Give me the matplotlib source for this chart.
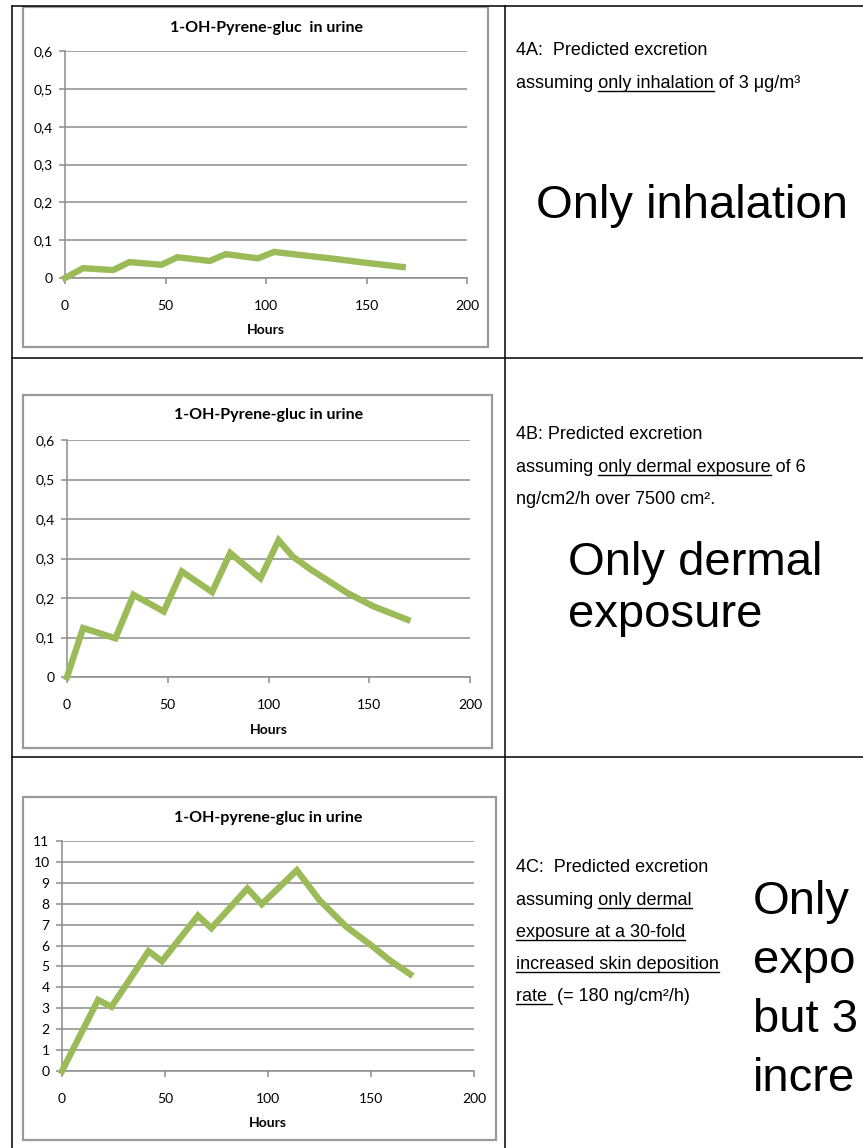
import matplotlib
matplotlib.use("Agg")
import matplotlib.pyplot as plt
from matplotlib.lines import Line2D
from matplotlib.patches import Rectangle

# ---- data ----
hours_a = [0, 9, 24, 32, 48, 56, 72, 80, 96, 104, 120, 135, 150, 168]
urine_a = [0, 0.026, 0.021, 0.042, 0.035, 0.055, 0.045, 0.063, 0.052, 0.069, 0.059, 0.05, 0.04, 0.029]

hours_b = [0, 8, 24, 33, 48, 57, 72, 81, 96, 105, 112, 121, 139, 152, 169]
urine_b = [0, 0.124, 0.098, 0.208, 0.166, 0.267, 0.215, 0.314, 0.25, 0.346, 0.305, 0.272, 0.213, 0.179, 0.145]

hours_c = [0, 17.5, 24, 42, 48.5, 66, 72.5, 90, 97, 114, 125, 138, 150, 159, 169]
urine_c = [0, 3.4, 3.07, 5.73, 5.25, 7.43, 6.83, 8.73, 7.98, 9.6, 8.17, 6.9, 6.02, 5.3, 4.63]

x_ticks = [0, 50, 100, 150, 200]
y_ticks_ab = [0, 0.1, 0.2, 0.3, 0.4, 0.5, 0.6]
y_labels_ab = ['0', '0,1', '0,2', '0,3', '0,4', '0,5', '0,6']
y_ticks_c = list(range(0, 12))
y_labels_c = [str(v) for v in y_ticks_c]

titles = ['1-OH-Pyrene-gluc  in urine', '1-OH-Pyrene-gluc in urine', '1-OH-pyrene-gluc in urine']

W, H = 863, 1148
GREEN = '#9bbb59'
GRID = '#8c8c8c'

fig = plt.figure(figsize=(W / 100, H / 100), dpi=100)


def fx(x):
    return x / W


def fy(y):
    return 1 - y / H


def hline(x0, x1, y, **kw):
    fig.add_artist(Line2D([fx(x0), fx(x1)], [fy(y), fy(y)], transform=fig.transFigure, **kw))


def vline(x, y0, y1, **kw):
    fig.add_artist(Line2D([fx(x), fx(x)], [fy(y0), fy(y1)], transform=fig.transFigure, **kw))


# ---- table grid ----
tbl = dict(color='black', lw=1.1)
hline(12, W + 5, 6, **tbl)
hline(12, W + 5, 358, **tbl)
hline(12, W + 5, 757, **tbl)
vline(12, 6, H + 5, **tbl)
vline(505, 6, H + 5, **tbl)


def chart(box, plot, hours, vals, yticks, ylabels, ylim, title, title_pad, label_pad):
    x0, y0, x1, y1 = box
    fig.add_artist(Rectangle((fx(x0), fy(y1)), (x1 - x0) / W, (y1 - y0) / H,
                             transform=fig.transFigure, fill=False, ec='#9a9a9a', lw=1.6))
    l, t, r, b = plot
    ax = fig.add_axes([fx(l), fy(b), (r - l) / W, (b - t) / H])
    ax.plot(hours, vals, color=GREEN, lw=4.6, solid_joinstyle='miter', clip_on=False, zorder=3)
    ax.set_xlim(0, 200)
    ax.set_ylim(*ylim)
    ax.set_xticks(x_ticks)
    ax.set_yticks(yticks)
    ax.set_yticklabels(ylabels)
    ax.yaxis.grid(True, color=GRID, lw=1.1)
    ax.set_axisbelow(True)
    for s in ['top', 'right']:
        ax.spines[s].set_visible(False)
    for s in ['left', 'bottom']:
        ax.spines[s].set_color(GRID)
        ax.spines[s].set_linewidth(1.1)
    ax.tick_params(axis='both', direction='out', length=4, width=1.1, color=GRID,
                   labelsize=10, labelcolor='black')
    ax.tick_params(axis='x', pad=11.5)
    ax.tick_params(axis='y', pad=5)
    for lab in ax.get_xticklabels() + ax.get_yticklabels():
        lab.set_fontfamily('Lato')
    ax.set_title(title, fontsize=11.5, fontweight='bold', family='Lato', pad=title_pad)
    ax.set_xlabel('Hours', fontsize=10, fontweight='bold', family='Lato', labelpad=label_pad)
    return ax


chart((23, 7, 488, 347), (65, 51, 467, 278), hours_a, urine_a,
      y_ticks_ab, y_labels_ab, (0, 0.6), titles[0], 14, 9)
chart((23, 395, 492, 748), (67, 440, 470, 677), hours_b, urine_b,
      y_ticks_ab, y_labels_ab, (0, 0.6), titles[1], 15, 10)
chart((23, 797, 496, 1140), (62, 841, 474, 1071), hours_c, urine_c,
      y_ticks_c, y_labels_c, (0, 11), titles[2], 14, 9)

# ---- right hand text with underlined parts ----
fig.canvas.draw()
renderer = fig.canvas.get_renderer()
SMALL = dict(fontsize=13, family='Liberation Sans', color='black')


def text_width(s):
    t = fig.text(0, 0, s + '|', **SMALL)
    w1 = t.get_window_extent(renderer).width
    t.remove()
    t = fig.text(0, 0, '|', **SMALL)
    w2 = t.get_window_extent(renderer).width
    t.remove()
    return w1 - w2


def para(x, y, s, spans=()):
    fig.text(fx(x), fy(y), s, va='baseline', ha='left', **SMALL)
    for a, b in spans:
        xa = x + text_width(s[:a])
        xb = x + text_width(s[:b])
        hline(xa, xb, y + 3, color='black', lw=1.0)


def underline_span(s, part):
    i = s.index(part)
    return (i, i + len(part))


lines_a = ['4A:  Predicted excretion', 'assuming only inhalation of 3 μg/m³']
para(516, 55, lines_a[0])
para(516, 88, lines_a[1], [underline_span(lines_a[1], 'only inhalation')])

lines_b = ['4B: Predicted excretion', 'assuming only dermal exposure of 6', 'ng/cm2/h over 7500 cm².']
para(516, 439, lines_b[0])
para(516, 472, lines_b[1], [underline_span(lines_b[1], 'only dermal exposure')])
para(516, 504, lines_b[2])

lines_c = ['4C:  Predicted excretion', 'assuming only dermal', 'exposure at a 30-fold',
           'increased skin deposition', 'rate  (= 180 ng/cm²/h)']
para(516, 872, lines_c[0])
para(516, 905, lines_c[1], [underline_span(lines_c[1], 'only dermal')])
para(516, 937, lines_c[2], [(0, len(lines_c[2]))])
para(516, 969, lines_c[3], [(0, len(lines_c[3]))])
para(516, 1001, lines_c[4], [(0, 5)])

BIG = dict(fontsize=34, family='Liberation Sans', color='black', va='baseline', ha='left')
fig.text(fx(536), fy(218), 'Only inhalation', **BIG)
fig.text(fx(568), fy(575), 'Only dermal', **BIG)
fig.text(fx(568), fy(627), 'exposure', **BIG)
# the reference cell is cut at the right edge; only these parts are visible
for y, s in zip([914, 973, 1032, 1091], ['Only', 'expo', 'but 3', 'incre']):
    fig.text(fx(753), fy(y), s, **BIG)

fig.savefig('out.png', dpi=100)
